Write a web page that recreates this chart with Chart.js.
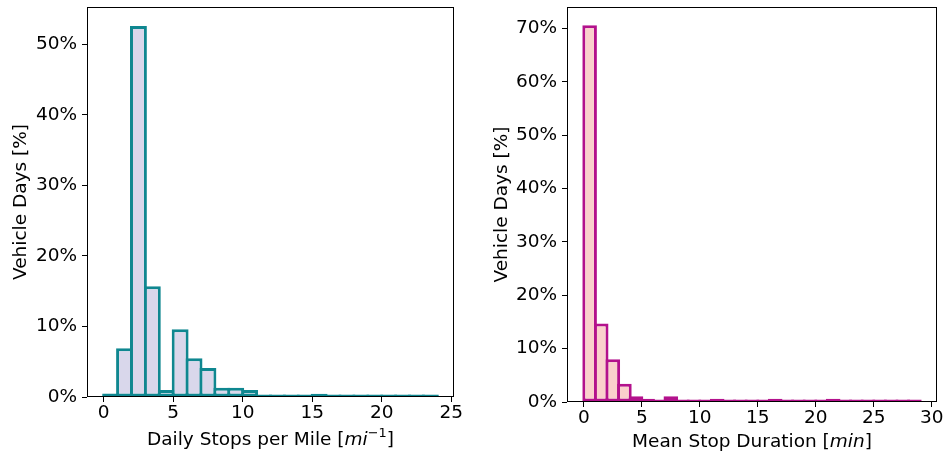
<!DOCTYPE html>
<html>
<head>
<meta charset="utf-8">
<script src="https://cdn.jsdelivr.net/npm/chart.js@4.4.1/dist/chart.umd.min.js"></script>
<style>
  html, body { margin: 0; padding: 0; background: #fff; }
  #wrap { position: relative; width: 947px; height: 452px; }
  .panel { position: absolute; top: 0; height: 452px; }
  #left { left: 0; width: 475px; }
  #right { left: 475px; width: 472px; }
</style>
</head>
<body>
<div id="wrap">
  <div class="panel" id="left"><canvas id="stops"></canvas></div>
  <div class="panel" id="right"><canvas id="duration"></canvas></div>
</div>
<script>
const FONT = "'DejaVu Sans', sans-serif";
const FONT_SIZE = 18.5;
const EDGE = 3;

// daily stops per mile, 1-wide bins from 0 to 24
const stopsBinStarts = [0, 1, 2, 3, 4, 5, 6, 7, 8, 9, 10, 11, 12, 13, 14, 15, 16, 17, 18, 19, 20, 21, 22, 23];
const stopsShare = [0.5, 6.9, 52.6, 15.7, 1.0, 9.6, 5.5, 4.1, 1.3, 1.3, 1.0, 0, 0, 0, 0, 0.45, 0, 0, 0, 0, 0, 0, 0, 0];
const stopsTicks = [0, 5, 10, 15, 20, 25];
const stopsPctTicks = [0, 10, 20, 30, 40, 50];

// mean stop duration in minutes, 1-wide bins from 0 to 29
const durationBinStarts = [0, 1, 2, 3, 4, 5, 6, 7, 8, 9, 10, 11, 12, 13, 14, 15, 16, 17, 18, 19, 20, 21, 22, 23, 24, 25, 26, 27, 28];
const durationShare = [70.6, 14.7, 8.0, 3.4, 1.1, 0.6, 0, 1.1, 0, 0, 0, 0.6, 0, 0, 0, 0, 0.6, 0, 0, 0, 0, 0.6, 0, 0, 0, 0, 0, 0, 0];
const durationTicks = [0, 5, 10, 15, 20, 25, 30];
const durationPctTicks = [0, 10, 20, 30, 40, 50, 60, 70];

// black box round the plot area, drawn over the bars
const frame = {
  id: 'frame',
  afterDatasetsDraw(chart) {
    const { ctx, chartArea: a } = chart;
    const l = Math.round(a.left) + 0.5, t = Math.round(a.top) + 0.5;
    const r = Math.round(a.right) - 0.5, b = Math.round(a.bottom) - 0.5;
    ctx.save();
    ctx.strokeStyle = '#000';
    ctx.lineWidth = 1;
    ctx.strokeRect(l, t, r - l, b - t);
    ctx.restore();
  }
};

// x-axis label with italic units and superscripts
function axisLabel(parts, baseline) {
  return {
    id: 'axisLabel',
    afterDraw(chart) {
      const { ctx, chartArea: a } = chart;
      ctx.save();
      ctx.fillStyle = '#000';
      ctx.textBaseline = 'alphabetic';
      const fontFor = p => (p.italic ? 'oblique ' : '') + (p.sup ? FONT_SIZE * 0.7 : FONT_SIZE) + 'px ' + FONT;
      let total = 0;
      parts.forEach(p => { ctx.font = fontFor(p); p.w = ctx.measureText(p.text).width; total += p.w; });
      let x = (a.left + a.right) / 2 - total / 2;
      parts.forEach(p => {
        ctx.font = fontFor(p);
        ctx.fillText(p.text, x, baseline - (p.sup ? FONT_SIZE * 0.45 : 0));
        x += p.w;
      });
      ctx.restore();
    }
  };
}

function histogram(id, cfg) {
  return new Chart(document.getElementById(id), {
    type: 'bar',
    data: {
      datasets: [{
        data: cfg.bins.map((b, i) => ({ x: b + 0.5, y: cfg.values[i] })),
        backgroundColor: cfg.fill,
        borderColor: cfg.edge,
        borderWidth: EDGE,
        borderSkipped: false,
        minBarLength: 2.5,
        // widen each bar by one edge so neighbouring outlines share a line
        barPercentage: 1 + EDGE / cfg.binPx,
        categoryPercentage: 1
      }]
    },
    options: {
      responsive: true,
      maintainAspectRatio: false,
      animation: false,
      layout: { padding: { top: 7, left: 0, right: cfg.padRight, bottom: 0 } },
      plugins: { legend: { display: false }, tooltip: { enabled: false } },
      scales: {
        x: {
          type: 'linear',
          offset: false,
          min: cfg.xMin,
          max: cfg.xMax,
          afterBuildTicks: s => { s.ticks = cfg.xTicks.map(v => ({ value: v })); },
          afterFit: s => { s.height = cfg.xHeight; s.paddingLeft = 0; s.paddingRight = 0; },
          grid: { offset: false, drawOnChartArea: false, tickLength: 5, color: '#000' },
          border: { display: false },
          ticks: { font: { family: FONT, size: FONT_SIZE }, color: '#000', padding: 0, maxRotation: 0 }
        },
        y: {
          min: 0,
          max: cfg.yMax,
          afterBuildTicks: s => { s.ticks = cfg.yTicks.map(v => ({ value: v })); },
          afterFit: s => { s.width = cfg.yWidth; s.paddingTop = 0; s.paddingBottom = 0; },
          grid: { drawOnChartArea: false, tickLength: 5, color: '#000' },
          border: { display: false },
          ticks: { font: { family: FONT, size: FONT_SIZE }, color: '#000', padding: 5, callback: v => v + '%' },
          title: {
            display: true,
            text: 'Vehicle Days [%]',
            color: '#000',
            font: { family: FONT, size: FONT_SIZE },
            padding: { top: cfg.yTitlePad, bottom: 0 }
          }
        }
      }
    },
    plugins: [frame, axisLabel(cfg.xLabel, cfg.xLabelBaseline)]
  });
}

histogram('stops', {
  bins: stopsBinStarts,
  values: stopsShare,
  fill: '#d9d7eb',
  edge: '#0f8790',
  xMin: -1.2, xMax: 25.2, xTicks: stopsTicks, binPx: 13.9,
  yMax: 55.3, yTicks: stopsPctTicks,
  yWidth: 87, xHeight: 55, padRight: 21, yTitlePad: 10,
  xLabel: [{ text: 'Daily Stops per Mile [' }, { text: 'mi', italic: true }, { text: '\u22121', sup: true }, { text: ']' }],
  xLabelBaseline: 445
});

histogram('duration', {
  bins: durationBinStarts,
  values: durationShare,
  fill: '#fad0cc',
  edge: '#b3118c',
  xMin: -1.45, xMax: 30.45, xTicks: durationTicks, binPx: 11.6,
  yMax: 74.0, yTicks: durationPctTicks,
  yWidth: 92, xHeight: 50, padRight: 10, yTitlePad: 16,
  xLabel: [{ text: 'Mean Stop Duration [' }, { text: 'min', italic: true }, { text: ']' }],
  xLabelBaseline: 447
});
</script>
</body>
</html>
